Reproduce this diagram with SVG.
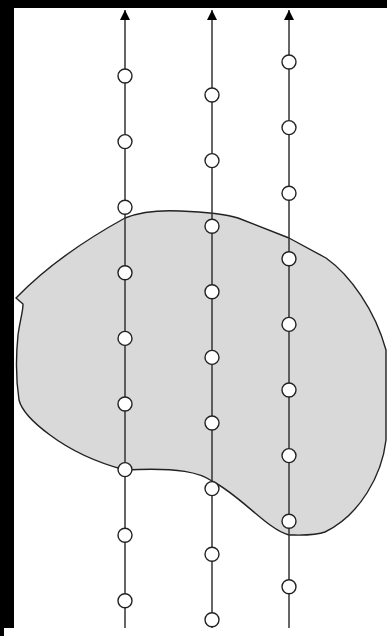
<svg xmlns="http://www.w3.org/2000/svg" width="387" height="636" viewBox="0 0 387 636">
<style>
.ln{stroke:#333;stroke-width:1.5;fill:none}
.nd{fill:#fff;stroke:#222;stroke-width:1.4}
.blob{fill:#d9d9d9;stroke:#222;stroke-width:1.4;stroke-linejoin:round}
</style>
<defs>
<marker id="arr" markerUnits="userSpaceOnUse" markerWidth="10" markerHeight="10" refX="10" refY="5" orient="auto">
<path d="M0,0 L10,5 L0,10 z" fill="#000"/>
</marker>
</defs>
<rect x="0" y="0" width="387" height="636" fill="#fff"/>
<rect x="0" y="0" width="387" height="8" fill="#000"/>
<rect x="0" y="0" width="14" height="628" fill="#000"/>
<rect x="0" y="628" width="4" height="8" fill="#000"/>
<g id="region">
<path class="blob" d="M125 218 C140 212 160 210 180 211 C205 212 225 214 238 218 L289 238 L326 258 C350 275 375 310 386 350 L386 440 C382 475 360 515 325 532 C315 536 300 535 289 535 C268 530 240 495 212 481 C200 473 180 467 125 470 C95 462 70 450 50 435 C35 424 22 412 19 400 C16 380 16 355 18 335 C20 320 23 312 23 304 L16 298 C45 268 85 240 125 218 Z"/>
</g>
<g id="connectors">
<line class="ln" x1="125" y1="628" x2="125" y2="10" marker-end="url(#arr)"/>
<line class="ln" x1="212" y1="628" x2="212" y2="10" marker-end="url(#arr)"/>
<line class="ln" x1="289" y1="628" x2="289" y2="10" marker-end="url(#arr)"/>
</g>
<g id="col1">
<g id="a1"><circle class="nd" cx="125" cy="76" r="7"/></g>
<g id="a2"><circle class="nd" cx="125" cy="141.6" r="7"/></g>
<g id="a3"><circle class="nd" cx="125" cy="207.2" r="7"/></g>
<g id="a4"><circle class="nd" cx="125" cy="272.8" r="7"/></g>
<g id="a5"><circle class="nd" cx="125" cy="338.4" r="7"/></g>
<g id="a6"><circle class="nd" cx="125" cy="404" r="7"/></g>
<g id="a7"><circle class="nd" cx="125" cy="469.6" r="7"/></g>
<g id="a8"><circle class="nd" cx="125" cy="535.2" r="7"/></g>
<g id="a9"><circle class="nd" cx="125" cy="600.8" r="7"/></g>
</g>
<g id="col2">
<g id="b1"><circle class="nd" cx="212" cy="95" r="7"/></g>
<g id="b2"><circle class="nd" cx="212" cy="160.6" r="7"/></g>
<g id="b3"><circle class="nd" cx="212" cy="226.2" r="7"/></g>
<g id="b4"><circle class="nd" cx="212" cy="291.8" r="7"/></g>
<g id="b5"><circle class="nd" cx="212" cy="357.4" r="7"/></g>
<g id="b6"><circle class="nd" cx="212" cy="423" r="7"/></g>
<g id="b7"><circle class="nd" cx="212" cy="488.6" r="7"/></g>
<g id="b8"><circle class="nd" cx="212" cy="554.2" r="7"/></g>
<g id="b9"><circle class="nd" cx="212" cy="619.8" r="7"/></g>
</g>
<g id="col3">
<g id="c1"><circle class="nd" cx="289" cy="62" r="7"/></g>
<g id="c2"><circle class="nd" cx="289" cy="127.6" r="7"/></g>
<g id="c3"><circle class="nd" cx="289" cy="193.2" r="7"/></g>
<g id="c4"><circle class="nd" cx="289" cy="258.8" r="7"/></g>
<g id="c5"><circle class="nd" cx="289" cy="324.4" r="7"/></g>
<g id="c6"><circle class="nd" cx="289" cy="390" r="7"/></g>
<g id="c7"><circle class="nd" cx="289" cy="455.6" r="7"/></g>
<g id="c8"><circle class="nd" cx="289" cy="521.2" r="7"/></g>
<g id="c9"><circle class="nd" cx="289" cy="586.8" r="7"/></g>
</g>
</svg>
